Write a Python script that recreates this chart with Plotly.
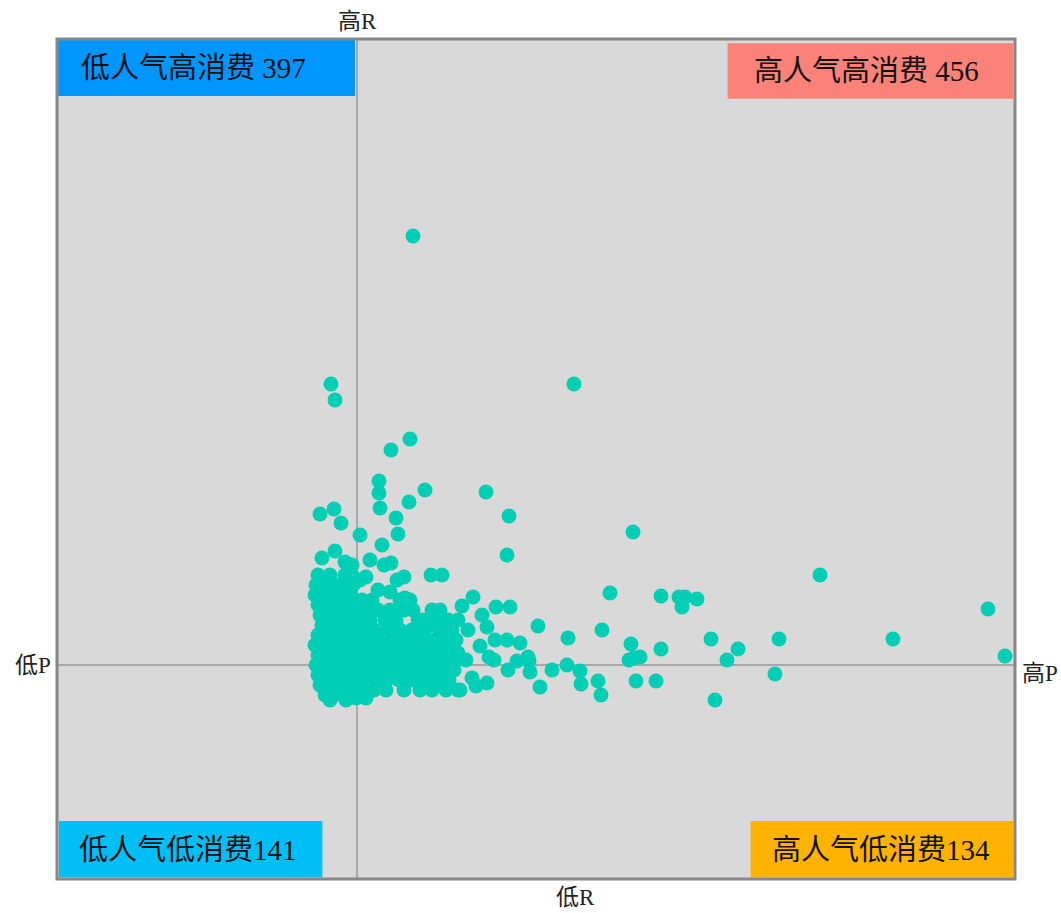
import plotly.graph_objects as go

# ---- data (popularity P on x, consumption R on y) ----
outlier_x = [356, 274, 278, 517, 353, 334, 322, 322, 429, 352, 368, 263, 277, 284, 452, 339, 323, 341, 303, 325,
             450, 576, 763, 931, 948, 836, 722, 681, 654, 670, 718, 658, 599, 579, 604, 553, 604, 622, 628, 625,
             640, 574, 572, 583, 577, 545, 511, 523, 524, 541, 544, 510, 495, 483, 481, 473, 463, 460, 471, 451,
             450, 430, 419, 415, 403, 409, 401, 385, 374, 405, 416, 439, 453, 425, 430, 438, 432, 437, 423, 472]
outlier_y = [643, 495, 479, 495, 440, 429, 398, 386, 387, 377, 389, 365, 370, 356, 363, 361, 371, 345, 344, 334,
             324, 347, 304, 270, 223, 240, 240, 230, 240, 219, 205, 179, 198, 198, 230, 286, 283, 282, 282, 272,
             280, 235, 219, 222, 221, 249, 241, 208, 195, 198, 184, 214, 209, 192, 253, 207, 236, 218, 222, 209,
             239, 196, 193, 201, 189, 219, 226, 304, 304, 273, 282, 272, 272, 264, 252, 239, 222, 219, 233, 218]

near_x = [278, 265, 288, 295, 313, 327, 334, 340, 347, 309, 303, 321, 333, 348, 352, 366, 376, 380, 383]
near_y = [328, 321, 317, 314, 319, 314, 316, 299, 302, 302, 299, 289, 287, 281, 273, 259, 254, 259, 244]

core_x = [261, 273, 288, 295,
          259, 268, 278, 287, 296,
          258, 267, 276, 285, 294,
          261, 270, 279, 288, 297,
          263, 272, 281, 290, 299,
          265, 274, 283, 292, 301,
          261, 270, 279, 288, 297,
          258, 267, 276, 285, 294,
          261, 270, 279, 288, 297,
          259, 268, 277, 286, 295,
          261, 270, 279, 288, 297,
          263, 272, 281, 290, 299,
          268, 277, 286, 295,
          273, 289]
core_y = [304, 304, 304, 304,
          294, 294, 294, 294, 294,
          284, 284, 284, 284, 284,
          274, 274, 274, 274, 274,
          264, 264, 264, 264, 264,
          254, 254, 254, 254, 254,
          244, 244, 244, 244, 244,
          234, 234, 234, 234, 234,
          224, 224, 224, 224, 224,
          214, 214, 214, 214, 214,
          204, 204, 204, 204, 204,
          194, 194, 194, 194, 194,
          184, 184, 184, 184,
          179, 179]

mid_x = [305, 315, 343, 353,
         308, 321, 333, 347, 356, 375, 383,
         303, 313, 328, 339, 361, 379, 391, 401,
         305, 317, 331, 343, 355, 367, 383, 395, 411,
         308, 321, 335, 347, 359, 373, 387, 399,
         303, 315, 327, 339, 351, 363, 377, 389, 395,
         307, 319, 331, 343, 355, 367, 379, 391, 399,
         303, 313, 325, 337, 349, 361, 373, 385, 397,
         306, 318, 330, 342, 354, 366, 380, 392,
         305, 317, 329, 347, 363, 375, 389, 401,
         299, 309]
mid_y = [279, 279, 279, 279,
         269, 269, 269, 269, 269, 269, 269,
         259, 259, 259, 259, 259, 259, 259, 259,
         249, 249, 249, 249, 249, 249, 249, 249, 249,
         239, 239, 239, 239, 239, 239, 239, 239,
         229, 229, 229, 229, 229, 229, 229, 229, 229,
         219, 219, 219, 219, 219, 219, 219, 219, 219,
         209, 209, 209, 209, 209, 209, 209, 209, 209,
         199, 199, 199, 199, 199, 199, 199, 199,
         189, 189, 189, 189, 189, 189, 189, 189,
         181, 181]

x_mid = 300
y_mid = 214
x_max = 958
y_max = 840

quadrant_labels = ["低人气高消费 397", "高人气高消费 456", "低人气低消费141", "高人气低消费134"]
quadrant_colors = ["#0096FF", "#FA8279", "#00BFF7", "#FFB300"]
axis_labels = ["高R", "低R", "低P", "高P"]

xs = outlier_x + near_x + core_x + mid_x
ys = outlier_y + near_y + core_y + mid_y

FONT = "Liberation Serif, Noto Sans CJK SC, serif"

fig = go.Figure()
fig.add_trace(go.Scatter(
    x=xs, y=ys, mode="markers",
    marker=dict(size=15, color="#00CFB5", line=dict(width=0)),
    hoverinfo="x+y", showlegend=False,
))

shapes = [
    dict(type="line", xref="x", yref="paper", x0=x_mid, x1=x_mid, y0=0, y1=1,
         line=dict(color="#A8A8A8", width=2), layer="below"),
    dict(type="line", xref="paper", yref="y", x0=0, x1=1, y0=y_mid, y1=y_mid,
         line=dict(color="#A8A8A8", width=2), layer="below"),
    # quadrant label boxes
    dict(type="rect", xref="paper", yref="paper", x0=0.0, x1=0.311, y0=0.932, y1=1.0,
         fillcolor=quadrant_colors[0], line=dict(width=0), layer="above"),
    dict(type="rect", xref="paper", yref="paper", x0=0.700, x1=0.998, y0=0.929, y1=0.995,
         fillcolor=quadrant_colors[1], line=dict(width=0), layer="above"),
    dict(type="rect", xref="paper", yref="paper", x0=0.002, x1=0.277, y0=0.002, y1=0.069,
         fillcolor=quadrant_colors[2], line=dict(width=0), layer="above"),
    dict(type="rect", xref="paper", yref="paper", x0=0.724, x1=0.998, y0=0.002, y1=0.069,
         fillcolor=quadrant_colors[3], line=dict(width=0), layer="above"),
    # frame
    dict(type="rect", xref="paper", yref="paper", x0=0, x1=1, y0=0, y1=1,
         line=dict(color="#878787", width=3), fillcolor="rgba(0,0,0,0)", layer="above"),
]

ann_font = dict(family=FONT, size=29, color="#111111")
annotations = [
    dict(xref="paper", yref="paper", x=0.143, y=0.966, text=quadrant_labels[0], showarrow=False,
         font=ann_font, xanchor="center", yanchor="middle"),
    dict(xref="paper", yref="paper", x=0.845, y=0.962, text=quadrant_labels[1], showarrow=False,
         font=ann_font, xanchor="center", yanchor="middle"),
    dict(xref="paper", yref="paper", x=0.137, y=0.034, text=quadrant_labels[2], showarrow=False,
         font=ann_font, xanchor="center", yanchor="middle"),
    dict(xref="paper", yref="paper", x=0.860, y=0.034, text=quadrant_labels[3], showarrow=False,
         font=ann_font, xanchor="center", yanchor="middle"),
    dict(xref="x", yref="paper", x=x_mid, y=1.0, yshift=3, text=axis_labels[0], showarrow=False,
         font=dict(family=FONT, size=23, color="#222222"), xanchor="center", yanchor="bottom"),
    dict(xref="x", yref="paper", x=518, y=0.0, yshift=-4, text=axis_labels[1], showarrow=False,
         font=dict(family=FONT, size=23, color="#222222"), xanchor="center", yanchor="top"),
    dict(xref="paper", yref="y", x=0.0, y=y_mid, xshift=-4, text=axis_labels[2], showarrow=False,
         font=dict(family=FONT, size=23, color="#222222"), xanchor="right", yanchor="middle"),
    dict(xref="paper", yref="y", x=1.0, y=y_mid - 8, xshift=5, text=axis_labels[3], showarrow=False,
         font=dict(family=FONT, size=23, color="#222222"), xanchor="left", yanchor="middle"),
]

fig.update_layout(
    width=1061, height=913,
    margin=dict(l=57, r=46, t=39, b=34),
    paper_bgcolor="white",
    plot_bgcolor="#D9D9D9",
    shapes=shapes,
    annotations=annotations,
    xaxis=dict(range=[0, x_max], showgrid=False, zeroline=False, showticklabels=False, ticks=""),
    yaxis=dict(range=[0, y_max], showgrid=False, zeroline=False, showticklabels=False, ticks=""),
    font=dict(family=FONT),
)

fig.write_html("out.html", config={"displayModeBar": False},
               post_script="document.body.style.margin='0';document.body.style.overflow='hidden';")
